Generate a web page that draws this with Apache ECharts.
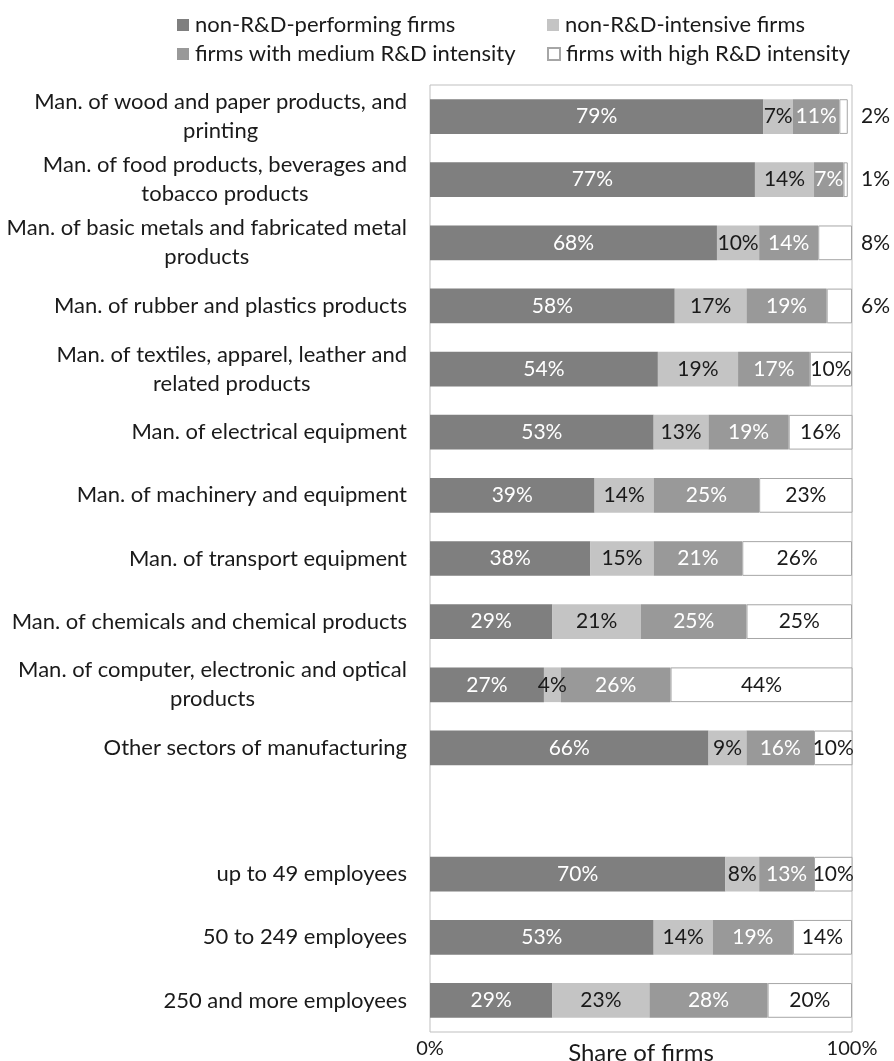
<!DOCTYPE html>
<html>
<head>
<meta charset="utf-8">
<title>Share of firms by R&amp;D intensity</title>
<script src="https://cdn.jsdelivr.net/npm/echarts@6/dist/echarts.min.js"></script>
<style>
  html, body { margin: 0; padding: 0; background: #ffffff; }
  #chart { width: 894px; height: 1061px; }
</style>
</head>
<body>
<div id="chart"></div>
<script>
// Sector and size-class rows, top to bottom (empty row separates the two groups)
const categories = [
  'Man. of wood and paper products, and\nprinting',
  'Man. of food products, beverages and\ntobacco products',
  'Man. of basic metals and fabricated metal\nproducts',
  'Man. of rubber and plastics products',
  'Man. of textiles, apparel, leather and\nrelated products',
  'Man. of electrical equipment',
  'Man. of machinery and equipment',
  'Man. of transport equipment',
  'Man. of chemicals and chemical products',
  'Man. of computer, electronic and optical\nproducts',
  'Other sectors of manufacturing',
  '',
  'up to 49 employees',
  '50 to 249 employees',
  '250 and more employees'
];

const seriesNames = [
  'non-R&D-performing firms',
  'non-R&D-intensive firms',
  'firms with medium R&D intensity',
  'firms with high R&D intensity'
];

// Shares of firms in percent
const nonPerforming = [79, 77, 68, 58, 54, 53, 39, 38, 29, 27, 66, null, 70, 53, 29];
const nonIntensive  = [ 7, 14, 10, 17, 19, 13, 14, 15, 21,  4,  9, null,  8, 14, 23];
const mediumRD      = [11,  7, 14, 19, 17, 19, 25, 21, 25, 26, 16, null, 13, 19, 28];
const highRD        = [ 2,  1,  8,  6, 10, 16, 23, 26, 25, 44, 10, null, 10, 14, 20];

// Rows whose high-intensity label sits outside the bar, to its right
const highLabelOutside = [0, 1, 2, 3];

const xTicks = { min: 0, max: 100, interval: 100 };

const FONT = 'Lato, "Open Sans", sans-serif';
const TEXT_DARK = '#1a1a1a';

const colors = ['#7f7f7f', '#c4c4c4', '#999999', '#ffffff'];
const labelColors = ['#ffffff', TEXT_DARK, '#ffffff', TEXT_DARK];
const values = [nonPerforming, nonIntensive, mediumRD, highRD];

const chart = echarts.init(document.getElementById('chart'), null, { renderer: 'canvas' });

function pct(p) { return p.value == null ? '' : p.value + '%'; }

const series = values.map(function (arr, si) {
  const data = arr.map(function (v, i) {
    if (v == null) return '-';
    if (si === 3 && highLabelOutside.indexOf(i) >= 0) {
      const rowSum = nonPerforming[i] + nonIntensive[i] + mediumRD[i] + highRD[i];
      return {
        value: v,
        label: { position: 'right', distance: 9 + (100 - rowSum) * 4.22 }
      };
    }
    return v;
  });
  return {
    name: seriesNames[si],
    type: 'bar',
    stack: 'share',
    barCategoryGap: '45%',
    data: data,
    itemStyle: si === 3
      ? { color: colors[si], borderColor: '#a6a6a6', borderWidth: 1 }
      : { color: colors[si] },
    label: {
      show: true,
      position: 'inside',
      formatter: pct,
      color: labelColors[si],
      fontFamily: FONT,
      fontSize: 21
    },
    emphasis: { disabled: true },
    animation: false
  };
});

// One legend block per entry, laid out as a 2 x 2 grid
const legendPos = [
  { left: 177, top: 12 },
  { left: 547, top: 12 },
  { left: 177, top: 41 },
  { left: 547, top: 41 }
];
const legends = seriesNames.map(function (name, i) {
  return {
    data: [name],
    left: legendPos[i].left,
    top: legendPos[i].top,
    padding: 0,
    icon: 'rect',
    itemWidth: 12,
    itemHeight: 12,
    itemGap: 0,
    selectedMode: false,
    textStyle: { fontFamily: FONT, fontSize: 22, color: TEXT_DARK, lineHeight: 26, padding: [0, 0, 0, 1] }
  };
});

chart.setOption({
  backgroundColor: '#ffffff',
  animation: false,
  legend: legends,
  grid: {
    left: 430,
    right: 42,
    top: 85,
    bottom: 29,
    show: true,
    borderColor: '#bfbfbf',
    borderWidth: 1,
    containLabel: false,
    outerBoundsMode: 'none'
  },
  xAxis: {
    type: 'value',
    min: xTicks.min,
    max: xTicks.max,
    interval: xTicks.interval,
    name: 'Share of firms',
    nameLocation: 'middle',
    nameGap: 9,
    nameMoveOverlap: false,
    nameTextStyle: { fontFamily: FONT, fontSize: 24, color: TEXT_DARK, verticalAlign: 'top' },
    axisLine: { show: false },
    axisTick: { show: false },
    splitLine: { show: false },
    axisLabel: {
      margin: 7,
      fontFamily: FONT,
      fontSize: 20,
      color: TEXT_DARK,
      formatter: function (v) { return v + '%'; }
    }
  },
  yAxis: {
    type: 'category',
    inverse: true,
    data: categories,
    axisLine: { show: false },
    axisTick: { show: false },
    splitLine: { show: false },
    axisLabel: {
      margin: 23,
      fontFamily: FONT,
      fontSize: 22,
      color: TEXT_DARK,
      lineHeight: 29,
      formatter: function (v) {
        if (!v) return '';
        return v.split('\n').map(function (line) { return '{c|' + line + '}'; }).join('\n');
      },
      rich: {
        c: { align: 'center', fontFamily: FONT, fontSize: 22, color: TEXT_DARK, lineHeight: 29 }
      }
    }
  },
  series: series
});
</script>
</body>
</html>
